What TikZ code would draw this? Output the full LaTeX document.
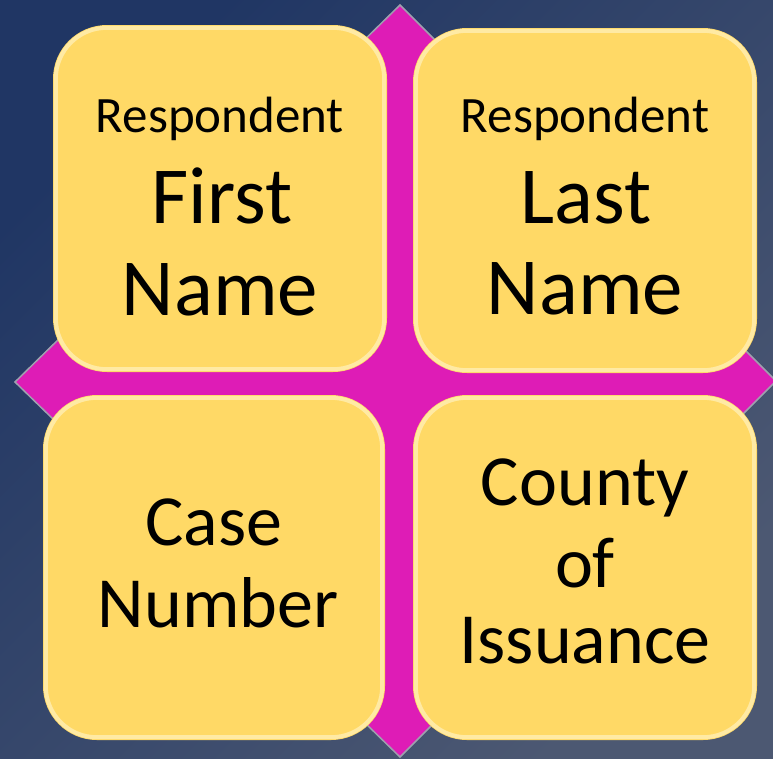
\documentclass[tikz,border=0pt]{standalone}
\usepackage{fontspec}
\setmainfont{Carlito}
\definecolor{bgA}{RGB}{32,54,100}
\definecolor{bgB}{RGB}{76,88,114}
\definecolor{diam}{RGB}{222,28,182}
\definecolor{diamedge}{RGB}{160,160,175}
\definecolor{boxfill}{RGB}{255,217,102}
\definecolor{boxhi}{RGB}{255,248,215}
\tikzset{
  card/.style={draw=none, fill=boxfill, rounded corners=54pt, inner sep=0pt},
  cardhi/.style={draw=boxhi, line width=4pt, opacity=0.55, rounded corners=51pt},
  small/.style={anchor=base, inner sep=0pt, font=\fontsize{51}{58}\selectfont},
  big/.style={anchor=base, inner sep=0pt, font=\fontsize{81}{92}\selectfont},
  mid/.style={anchor=base, inner sep=0pt, font=\fontsize{72}{82}\selectfont},
}
\begin{document}
\begin{tikzpicture}[x=1pt,y=-1pt]
\useasboundingbox (0,0) rectangle (773,758);
\shade[top color=bgA, bottom color=bgB, shading angle=45] (0,0) rectangle (773,758);
% diamond
\filldraw[fill=diam, draw=diamedge, line width=1.5pt] (400,5) -- (776,381) -- (400,757) -- (15,382) -- cycle;
% cards
\node[card, minimum width=334pt, minimum height=347pt] (tl) at (220,198.5) {};
\node[card, minimum width=344pt, minimum height=345pt] (tr) at (585,200.5) {};
\node[card, minimum width=342pt, minimum height=345pt] (bl) at (214,567.5) {};
\node[card, minimum width=344pt, minimum height=345pt] (br) at (585,567.5) {};
\foreach \n in {tl,tr,bl,br}{
  \draw[cardhi] ([shift={(3pt,-3pt)}]\n.north west) rectangle ([shift={(-3pt,3pt)}]\n.south east);
}
% texts
\node[small] (t1) at (220,132) {Respondent};
\node[big] (t2) at (222,223) {First};
\node[big] (t3) at (220,315) {Name};
\node[small] (t4) at (585,132) {Respondent};
\node[big] (t5) at (586,223) {Last};
\node[big] (t6) at (585,314) {Name};
\node[mid] (t7) at (214,545) {Case};
\node[mid] (t8) at (218,627) {Number};
\node[mid] (t9) at (585,505) {County};
\node[mid] (t10) at (585,587) {of};
\node[mid] (t11) at (585,663) {Issuance};
\end{tikzpicture}
\end{document}
